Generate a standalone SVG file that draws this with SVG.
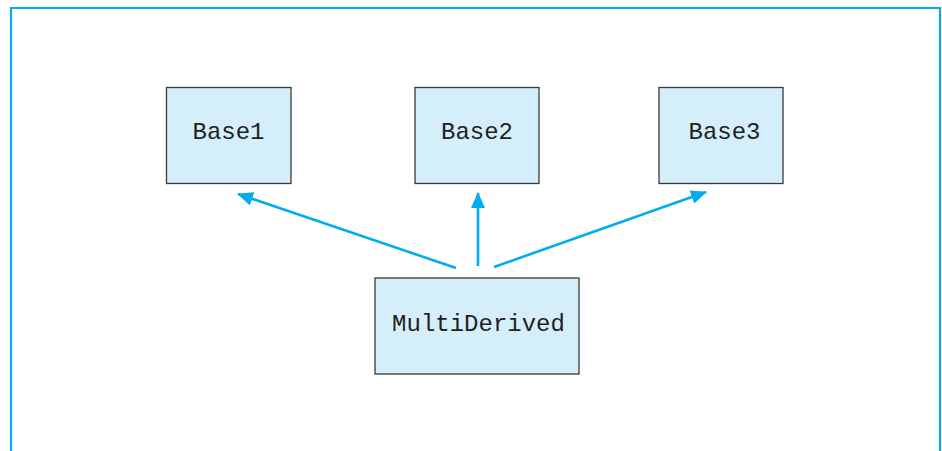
<svg xmlns="http://www.w3.org/2000/svg" width="942" height="451" viewBox="0 0 942 451">
<style>
.box{fill:#d4eefa;stroke:#3a3a3a;stroke-width:1.3}
.lbl{font-family:"Liberation Mono","DejaVu Sans Mono",monospace;font-size:24px;fill:#231f20}
.conn{stroke:#00aeef;stroke-width:2.6;fill:none}
</style>
<defs>
<marker id="ah" viewBox="0 0 16 14" refX="15" refY="7" markerWidth="16" markerHeight="14" markerUnits="userSpaceOnUse" orient="auto">
<path d="M0,0 L16,7 L0,14 Z" fill="#00aeef"/>
</marker>
</defs>
<rect x="0" y="0" width="942" height="451" fill="#ffffff"/>
<path d="M11,451 L11,8 L940,8 L940,451" fill="none" stroke="#00aeef" stroke-width="2.2"/>
<g id="connectors">
<line class="conn" x1="456" y1="268" x2="238" y2="194" marker-end="url(#ah)"/>
<line class="conn" x1="478" y1="266" x2="478" y2="193" marker-end="url(#ah)"/>
<line class="conn" x1="494" y1="267" x2="706" y2="192" marker-end="url(#ah)"/>
</g>
<g id="base1">
<rect class="box" x="166.5" y="87.5" width="124.5" height="96"/>
<text class="lbl" x="228.5" y="139" text-anchor="middle">Base1</text>
</g>
<g id="base2">
<rect class="box" x="415" y="87.5" width="124" height="96"/>
<text class="lbl" x="477" y="139" text-anchor="middle">Base2</text>
</g>
<g id="base3">
<rect class="box" x="659" y="87.5" width="124" height="96"/>
<text class="lbl" x="724.5" y="139" text-anchor="middle">Base3</text>
</g>
<g id="multiderived">
<rect class="box" x="375" y="278" width="204" height="96"/>
<text class="lbl" x="478.5" y="331" text-anchor="middle">MultiDerived</text>
</g>
</svg>
